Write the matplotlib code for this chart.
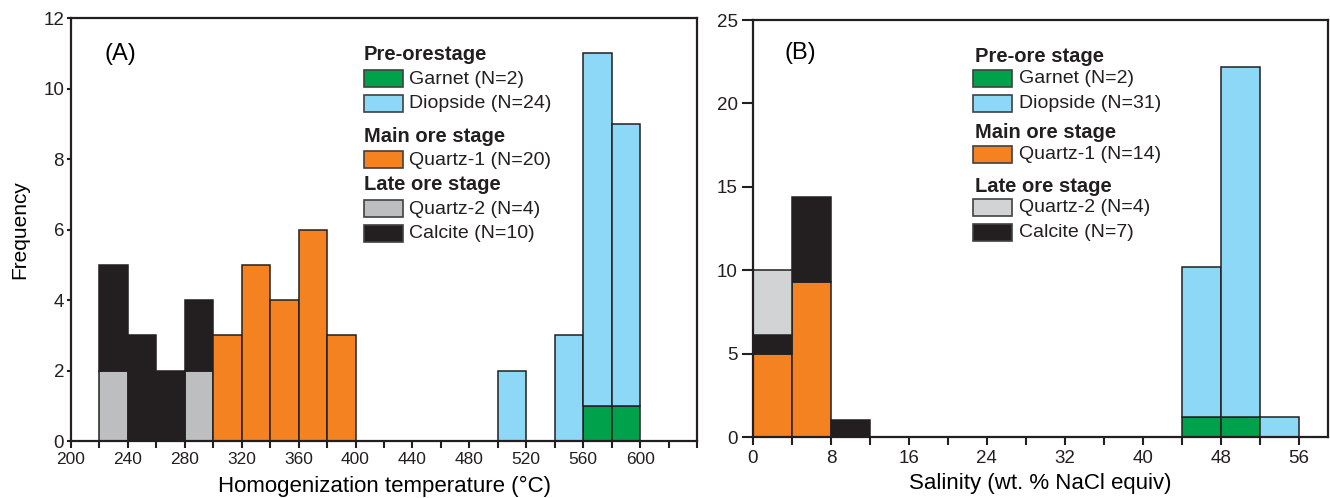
import numpy as np
import matplotlib
matplotlib.use("Agg")
import matplotlib.pyplot as plt
from matplotlib.patches import Rectangle
from matplotlib.ticker import MultipleLocator

plt.rcParams['font.family'] = ['Liberation Sans', 'DejaVu Sans']

# ---- data, panel A: homogenization temperature (bin left edges, width 20) ----
bins_a = [220, 240, 260, 280, 300, 320, 340, 360, 380, 400, 420, 440, 460, 480, 500, 520, 540, 560, 580]
garnet_a   = [0, 0, 0, 0, 0, 0, 0, 0, 0, 0, 0, 0, 0, 0, 0, 0, 0, 1, 1]
diopside_a = [0, 0, 0, 0, 0, 0, 0, 0, 0, 0, 0, 0, 0, 0, 2, 0, 3, 10, 8]
quartz2_a  = [2, 0, 0, 2, 0, 0, 0, 0, 0, 0, 0, 0, 0, 0, 0, 0, 0, 0, 0]
calcite_a  = [3, 3, 2, 2, 0, 0, 0, 0, 0, 0, 0, 0, 0, 0, 0, 0, 0, 0, 0]
quartz1_a  = [0, 0, 0, 0, 3, 5, 4, 6, 3, 0, 0, 0, 0, 0, 0, 0, 0, 0, 0]

# ---- data, panel B: salinity (bin left edges, width 4) ----
bins_b = [0, 4, 8, 12, 16, 20, 24, 28, 32, 36, 40, 44, 48, 52]
garnet_b   = [0, 0, 0, 0, 0, 0, 0, 0, 0, 0, 0, 1.2, 1.2, 0]
diopside_b = [0, 0, 0, 0, 0, 0, 0, 0, 0, 0, 0, 9.0, 21.0, 1.2]
quartz1_b  = [5.0, 9.3, 0, 0, 0, 0, 0, 0, 0, 0, 0, 0, 0, 0]
calcite_b  = [1.1, 5.1, 1.0, 0, 0, 0, 0, 0, 0, 0, 0, 0, 0, 0]
quartz2_b  = [3.9, 0, 0, 0, 0, 0, 0, 0, 0, 0, 0, 0, 0, 0]

legend_a = [("Pre-orestage", None), ("Garnet (N=2)", "garnet"), ("Diopside (N=24)", "diopside"),
            ("Main ore stage", None), ("Quartz-1 (N=20)", "quartz1"),
            ("Late ore stage", None), ("Quartz-2 (N=4)", "quartz2"), ("Calcite (N=10)", "calcite")]
legend_b = [("Pre-ore stage", None), ("Garnet (N=2)", "garnet"), ("Diopside (N=31)", "diopside"),
            ("Main ore stage", None), ("Quartz-1 (N=14)", "quartz1"),
            ("Late ore stage", None), ("Quartz-2 (N=4)", "quartz2"), ("Calcite (N=7)", "calcite")]

colors = {"garnet": "#00a14b", "diopside": "#8dd8f7", "quartz1": "#f58220",
          "quartz2": "#bcbec0", "calcite": "#231f20"}
colors_b = dict(colors, quartz2="#d1d3d4")

W, H = 1330, 498
fig = plt.figure(figsize=(W / 100, H / 100), dpi=100)

box_a = (71, 697, 18, 441)
box_b = (753, 1328, 20, 437)


def px_axes(l, r, t, b):
    return fig.add_axes([l / W, 1 - b / H, (r - l) / W, (b - t) / H])


ax1 = px_axes(*box_a)
ax2 = px_axes(*box_b)


def stack(ax, bins, width, series, cols):
    bottom = np.zeros(len(bins))
    for key, vals in series:
        vals = np.array(vals, dtype=float)
        mask = vals > 0
        ax.bar(np.array(bins)[mask], vals[mask], width=width, bottom=bottom[mask],
               align='edge', color=cols[key], edgecolor='#231f20', linewidth=1.1, zorder=2)
        bottom += vals


stack(ax1, bins_a, 20, [("garnet", garnet_a), ("diopside", diopside_a), ("quartz2", quartz2_a),
                        ("calcite", calcite_a), ("quartz1", quartz1_a)], colors)
stack(ax2, bins_b, 4, [("garnet", garnet_b), ("diopside", diopside_b), ("quartz1", quartz1_b),
                       ("calcite", calcite_b), ("quartz2", quartz2_b)], colors_b)


def legend(ax, entries, cols, box, x_title, x_patch, x_text, ys):
    l, r, t, b = box
    fx = lambda x: (x - l) / (r - l)
    fy = lambda y: (b - y) / (b - t)
    for (label, key), y in zip(entries, ys):
        if key is None:
            ax.text(fx(x_title), fy(y), label, transform=ax.transAxes, fontsize=14.5,
                    fontweight='bold', va='center', ha='left', color='#231f20')
        else:
            ax.add_patch(Rectangle((fx(x_patch), fy(y + 8.5)), 39 / (r - l), 17 / (b - t),
                                   transform=ax.transAxes, facecolor=cols[key],
                                   edgecolor='#414042', linewidth=1.2, clip_on=False, zorder=3))
            ax.text(fx(x_text), fy(y), label, transform=ax.transAxes, fontsize=14,
                    va='center', ha='left', color='#231f20')


legend(ax1, legend_a, colors, box_a, 364, 364, 409, [54, 79, 103, 136, 160, 184, 209, 233])
legend(ax2, legend_b, colors_b, box_b, 975, 973, 1019, [56, 78, 103, 132, 154, 186, 207, 232])

for ax in (ax1, ax2):
    for s in ax.spines.values():
        s.set_linewidth(1.6)
        s.set_color('#231f20')
    ax.tick_params(which='both', direction='out', width=1.5, colors='#231f20')

ax1.set_xlim(200, 640)
ax1.set_ylim(0, 12)
ax1.set_xticks(range(200, 601, 40))
ax1.xaxis.set_minor_locator(MultipleLocator(20))
ax1.set_yticks(range(0, 13, 2))
ax1.tick_params(axis='x', which='both', length=5, labelsize=12.5, pad=3)
ax1.tick_params(axis='y', length=3, labelsize=13.5, pad=2)
ax1.set_xlabel("Homogenization temperature (°C)", fontsize=16, labelpad=6)
ax1.set_ylabel("Frequency", fontsize=15, labelpad=10)
ax1.text(0.053, 0.915, "(A)", transform=ax1.transAxes, fontsize=17, va='center')

ax2.set_xlim(0, 59)
ax2.set_ylim(0, 25)
ax2.set_xticks(range(0, 57, 8))
ax2.xaxis.set_minor_locator(MultipleLocator(4))
ax2.set_yticks(range(0, 26, 5))
ax2.tick_params(axis='x', which='both', length=6, labelsize=13.5, pad=3)
ax2.tick_params(axis='y', length=8, labelsize=13.5, pad=3)
ax2.set_xlabel("Salinity (wt. % NaCl equiv)", fontsize=16, labelpad=5)
ax2.text(0.055, 0.92, "(B)", transform=ax2.transAxes, fontsize=17, va='center')

fig.savefig("out.png", dpi=100)
